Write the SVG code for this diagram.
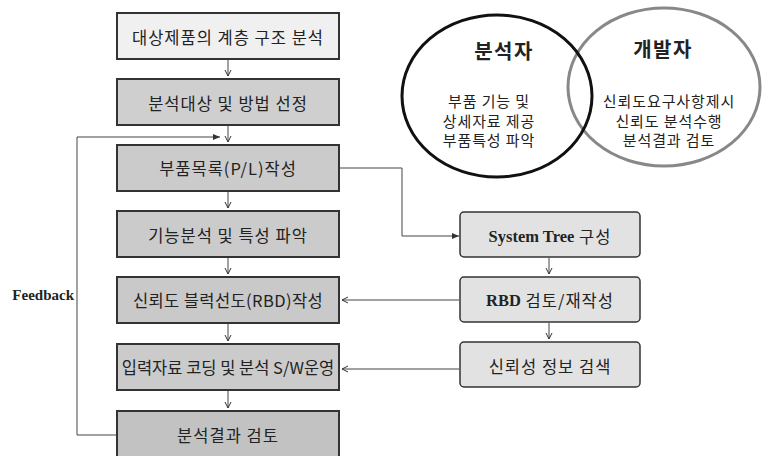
<svg xmlns="http://www.w3.org/2000/svg" width="764" height="456" viewBox="0 0 764 456">
<defs>
<marker id="ah" markerWidth="8" markerHeight="8" refX="7" refY="4" orient="auto" markerUnits="userSpaceOnUse">
<path d="M1,1 L7,4 L1,7" fill="none" stroke="#333" stroke-width="1"/>
</marker>
<marker id="ahf" markerWidth="8" markerHeight="8" refX="7" refY="4" orient="auto" markerUnits="userSpaceOnUse">
<path d="M0,1 L7,4 L0,7 Z" fill="#333"/>
</marker>
<style>
.box{stroke:#333;stroke-width:2}
.rbox{fill:#e2e2e2;stroke:#333;stroke-width:1.5}
.kt{font-family:"Noto Sans CJK KR","Noto Sans",sans-serif;font-size:16.5px;letter-spacing:1px;fill:#222;text-anchor:middle;dominant-baseline:central}
.ser{font-family:"Liberation Serif",serif;font-weight:bold;letter-spacing:0}
.ct{font-family:"Noto Sans CJK KR","Noto Sans",sans-serif;font-size:15px;letter-spacing:0.9px;fill:#222;text-anchor:middle;dominant-baseline:central}
.hd{font-family:"Noto Sans CJK KR","Noto Sans",sans-serif;font-size:20px;letter-spacing:1.5px;font-weight:bold;fill:#222;text-anchor:middle;dominant-baseline:central}
.cn{fill:none;stroke:#444;stroke-width:1}
</style>
</defs>
<rect width="764" height="456" fill="#fff"/>

<g id="venn">
<ellipse cx="664" cy="87" rx="96" ry="79" fill="none" stroke="#888" stroke-width="3"/>
<ellipse cx="497" cy="96" rx="95" ry="81" fill="none" stroke="#111" stroke-width="3"/>
<text class="hd" x="504" y="50">분석자</text>
<text class="hd" x="663" y="48">개발자</text>
<text class="ct" x="489" y="100">부품 기능 및</text>
<text class="ct" x="489" y="120">상세자료 제공</text>
<text class="ct" x="489" y="139">부품특성 파악</text>
<text class="ct" x="669" y="100">신뢰도요구사항제시</text>
<text class="ct" x="669" y="120">신뢰도 분석수행</text>
<text class="ct" x="669" y="139">분석결과 검토</text>
</g>

<g id="connectors">
<line class="cn" x1="228" y1="59" x2="228" y2="76" marker-end="url(#ah)"/>
<line class="cn" x1="228" y1="125" x2="228" y2="142" marker-end="url(#ah)"/>
<line class="cn" x1="228" y1="191" x2="228" y2="208" marker-end="url(#ah)"/>
<line class="cn" x1="228" y1="257" x2="228" y2="274" marker-end="url(#ah)"/>
<line class="cn" x1="228" y1="323" x2="228" y2="341" marker-end="url(#ah)"/>
<line class="cn" x1="228" y1="390" x2="228" y2="408" marker-end="url(#ah)"/>
<polyline class="cn" points="117,435 77,435 77,137 220,137" marker-end="url(#ahf)"/>
<polyline class="cn" points="340,168 402,168 402,236 459,236" marker-end="url(#ahf)"/>
<line class="cn" x1="549" y1="258" x2="549" y2="274" marker-end="url(#ah)"/>
<line class="cn" x1="549" y1="323" x2="549" y2="339" marker-end="url(#ah)"/>
<line class="cn" x1="459" y1="300" x2="342" y2="300" stroke="#888" marker-end="url(#ah)"/>
<line class="cn" x1="459" y1="369" x2="342" y2="369" marker-end="url(#ah)"/>
<text x="74" y="295" font-family="Liberation Serif, serif" font-weight="bold" font-size="15" fill="#222" text-anchor="end" dominant-baseline="central">Feedback</text>
</g>

<g id="n1"><rect class="box" x="117" y="13" width="222" height="46" fill="#f0f0f0"/><text class="kt" x="228" y="37">대상제품의 계층 구조 분석</text></g>
<g id="n2"><rect class="box" x="117" y="79" width="222" height="46" fill="#cfcfcf"/><text class="kt" x="228" y="103">분석대상 및 방법 선정</text></g>
<g id="n3"><rect class="box" x="117" y="145" width="222" height="46" fill="#cbcbcb"/><text class="kt" x="228" y="168">부품목록(P/L)작성</text></g>
<g id="n4"><rect class="box" x="117" y="211" width="222" height="46" fill="#cbcbcb"/><text class="kt" x="228" y="235">기능분석 및 특성 파악</text></g>
<g id="n5"><rect class="box" x="117" y="277" width="222" height="46" fill="#c9c9c9"/><text class="kt" x="228" y="300" style="letter-spacing:0.4px">신뢰도 블럭선도(RBD)작성</text></g>
<g id="n6"><rect class="box" x="117" y="344" width="222" height="46" fill="#cbcbcb"/><text class="kt" x="228" y="367" style="letter-spacing:0">입력자료 코딩 및 분석 S/W운영</text></g>
<g id="n7"><rect class="box" x="117" y="411" width="222" height="46" fill="#c2c2c2"/><text class="kt" x="228" y="435">분석결과 검토</text></g>

<g id="r1"><rect class="rbox" x="460" y="212" width="180" height="45" rx="4"/><text class="kt" x="550" y="236"><tspan class="ser">System Tree</tspan> 구성</text></g>
<g id="r2"><rect class="rbox" x="460" y="277" width="180" height="45" rx="4"/><text class="kt" x="550" y="300"><tspan class="ser">RBD</tspan> 검토/재작성</text></g>
<g id="r3"><rect class="rbox" x="460" y="342" width="180" height="45" rx="4"/><text class="kt" x="550" y="366">신뢰성 정보 검색</text></g>
</svg>
